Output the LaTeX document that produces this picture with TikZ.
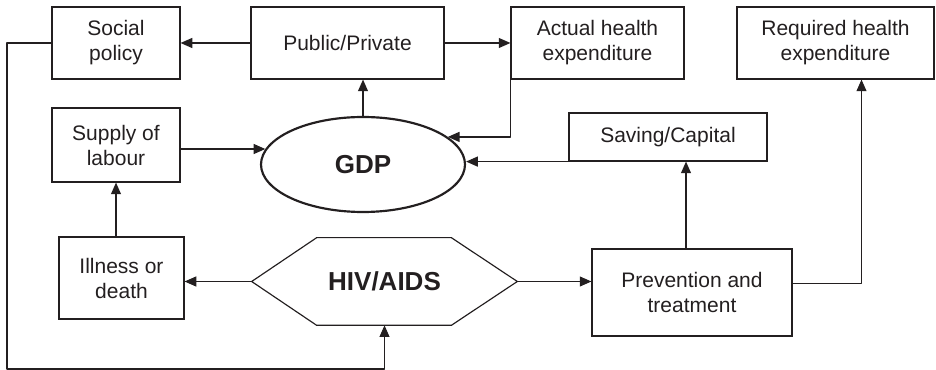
\documentclass[tikz,border=0pt]{standalone}
\usepackage{fontspec}
\setmainfont{Liberation Sans}
\usepackage{xcolor}
\usepackage{tikz}
\usetikzlibrary{calc,shapes.geometric,arrows.meta}
\definecolor{ink}{HTML}{231F20}
\tikzset{
  box/.style={draw=ink, line width=0.7pt, rectangle, inner sep=0pt, align=center,
    text=ink, font=\fontsize{12.6}{15}\selectfont},
  oval/.style={draw=ink, line width=1.3pt, ellipse, inner sep=0pt,
    minimum width=122.4pt, minimum height=57pt, text=ink, font=\bfseries\fontsize{15.6}{18}\selectfont},
  big/.style={inner sep=0pt, text=ink, font=\bfseries\fontsize{15.6}{18}\selectfont},
  edge/.style={draw=ink, line width=0.7pt, line join=round},
  arr/.style={edge, -{Triangle[length=7pt,width=6pt]}},
}

\begin{document}
\begin{tikzpicture}[x=0.6pt,y=-0.6pt]
  \useasboundingbox (0,0) rectangle (936,370);
  % top row
  \node[box, minimum width=76.8pt, minimum height=43.2pt] (soc) at (116,43) {Social\\policy};
  \node[box, minimum width=115.8pt, minimum height=43.2pt] (pub) at (347.5,43) {Public/Private};
  \node[box, minimum width=103.8pt, minimum height=43.2pt] (act) at (597.5,43) {Actual health\\expenditure};
  \node[box, minimum width=118.2pt, minimum height=43.2pt] (req) at (835.5,43) {Required health\\expenditure};
  % middle row
  \node[box, minimum width=76.8pt, minimum height=44.4pt] (sup) at (116,145) {Supply of\\labour};
  \node[oval] (gdp) at (363,164.5) {GDP};
  \node[box, minimum width=118.8pt, minimum height=28.8pt] (sav) at (668,137) {Saving/Capital};
  % bottom row
  \node[box, minimum width=75pt, minimum height=49.2pt] (ill) at (121.5,278) {Illness or\\death};
  \node[big, minimum width=159pt, minimum height=52.2pt] (hiv) at (384.5,281.5) {HIV/AIDS};
  \node[box, minimum width=120pt, minimum height=52.2pt] (prev) at (692,292.5) {Prevention and\\treatment};
  \draw[edge] (hiv.west) -- ($(hiv.north west)+(65,0)$) -- ($(hiv.north east)+(-66,0)$)
    -- (hiv.east) -- ($(hiv.south east)+(-66,0)$) -- ($(hiv.south west)+(65,0)$) -- cycle;

  % connectors
  \draw[arr] (pub.west) -- (soc.east);
  \draw[arr] (pub.east) -- (act.west);
  \draw[arr] (gdp.north) -- (gdp.north |- pub.south);
  \draw[arr] (act.south west) |- (gdp.18);
  \draw[arr] (sav.south west) -- (sav.south west -| gdp.east);
  \draw[arr] (sup.east |- gdp.171) -- (gdp.171);
  \draw[arr] (ill.north -| sup.south) -- (sup.south);
  \draw[arr] (hiv.west) -- (hiv.west -| ill.east);
  \draw[arr] (hiv.east) -- (hiv.east -| prev.west);
  \draw[arr] ([xshift=-3.6pt]prev.north) -- ([xshift=-3.6pt]prev.north |- sav.south);
  \draw[arr] ([yshift=5.4pt]prev.east) -| ([xshift=15.6pt]req.south);
  \coordinate (loop) at (7,369);
  \draw[arr] (soc.west) -| (loop) -| (hiv.south);
\end{tikzpicture}
\end{document}
